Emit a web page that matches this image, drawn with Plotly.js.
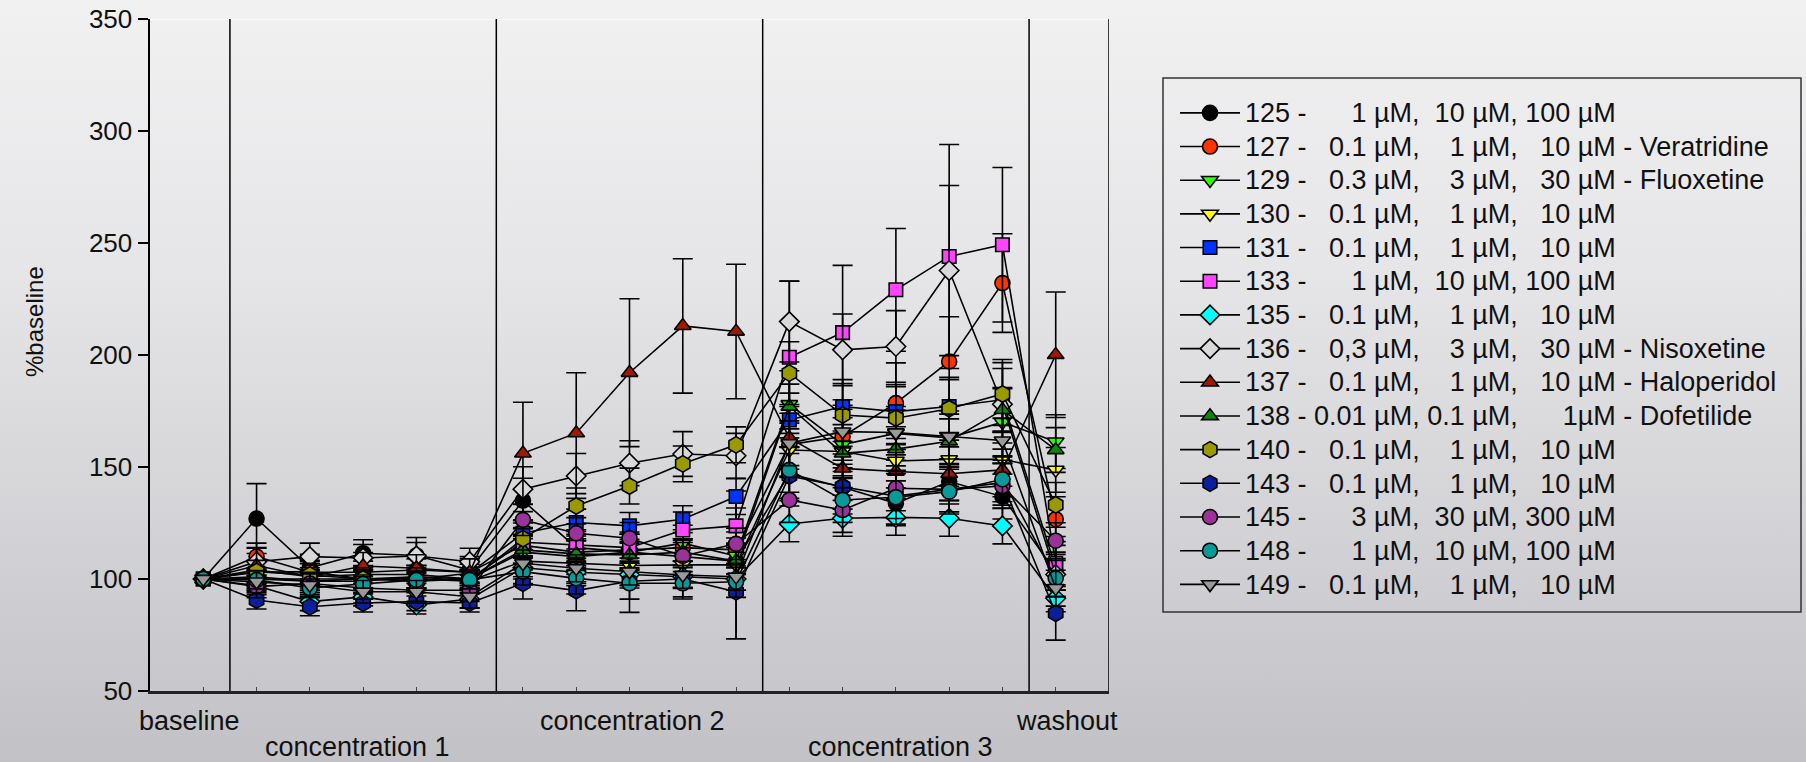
<!DOCTYPE html>
<html><head><meta charset="utf-8">
<script src="https://cdn.plot.ly/plotly-3.0.1.min.js"></script>
<style>
html,body{margin:0;padding:0;}
body{width:1806px;height:762px;overflow:hidden;background:linear-gradient(to bottom,#f1f1f2 0%,#e6e6e8 35%,#c2c1c6 100%);}
#chart{width:1806px;height:762px;}
</style></head><body><div id="chart"></div><script>
// time points: 0 = baseline, 1-5 = concentration 1, 6-10 = concentration 2, 11-15 = concentration 3, 16 = washout
const timepoints = [0,1,2,3,4,5,6,7,8,9,10,11,12,13,14,15,16];
const phaseLabels = ['baseline','concentration 1','concentration 2','concentration 3','washout'];
const phaseBounds = [0.5, 5.5, 10.5, 15.5];

// mean %baseline values
const s125 = [100,127,105,111.5,110.5,104,135,114,112,110,108,147,141,133.8,143.5,136.8,103];
const s127 = [100,110,103,103,104,103,115,112,113,114,113,160,163.6,178.5,197.1,232.1,126.7];
const s129 = [100,104,101,102,102,100,112,110,112,116,110.3,178,160,165,163,170,161.3];
const s130 = [100,103,103.3,100,101,99,108,107,106,106.3,106.3,157.6,156.9,152.7,153.4,153.4,148.7];
const s131 = [100,101,99,100,100,102.6,120.4,125.2,123.7,126.7,136.8,171,177,174.7,177,180,105];
const s133 = [100,100,99,99,101,100,116.4,115.2,114,121.9,123.7,199,210,229.1,244,249.2,107];
const s135 = [100,97,89.9,92,88.4,91,105,103,102,101,100,124.6,127.1,127.5,127.1,123.7,91.4];
const s136 = [100,107.7,110,109.4,110.3,107.7,140.1,146,151.7,155.8,155,214.9,202.3,203.8,237.7,178,102];
const s137 = [100,106,101,105.8,104.8,103,156.1,165.1,192.1,213,210.5,163,149.4,148,147,148.7,200.1];
const s138 = [100,100,100,100,99,100,113,111.2,110.7,112,108,177,156.1,158,161.5,175.5,157.6];
const s140 = [100,103.3,101.8,100,100,99,118,132.6,141.5,151.4,159.9,191.9,173.2,171.8,176,182.6,133.1];
const s143 = [100,90.6,87.6,89.3,89.9,89.3,98.1,94.8,99,100,94.3,146,141.2,137,140,143,84.7];
const s145 = [100,96.6,98,96,95,95,126.4,120.4,118.2,110.3,115.7,135.3,130.8,140.5,140,141.5,117.1];
const s148 = [100,99.6,96,97.8,99.6,99.6,103.3,100.3,98.1,98.1,98.8,148.7,135.3,136.5,139,144.5,100.3];
const s149 = [100,98.8,97.3,94.3,94.3,92.1,107,104.8,103.3,101.8,101,160.6,165.8,165.4,163.6,161.8,95.9];

// error (SEM) values
const e125 = [0,15.6,6,6,8,6,10,8,8,8,8,12,12,10,10,10,8];
const e127 = [0,6,5,5,5,5,8,8,8,8,8,14,14,18,20,22,10];
const e129 = [0,4,4,4,4,4,8,8,8,8,8,15,12,12,12,15,12];
const e130 = [0,5,5,5,5,5,10,10,10,10,33,12,12,12,12,12,10];
const e131 = [0,4,4,4,4,4,6,6,6,6,8,12,12,12,12,14,10];
const e133 = [0,5,5,5,5,5,6,6,6,8,8,34,30,27.4,50,34.5,12];
const e135 = [0,4,4,4,4,4,5,5,5,5,5,8,8,8,8,8,6];
const e136 = [0,6,6,6,6,6,10,10,10,10,10,18,16,16,38,20,10];
const e137 = [0,8,6,6,6,6,22.8,27,33,30,30,14,12,12,12,12,28];
const e138 = [0,4,4,4,4,4,6,6,6,6,6,10,10,10,10,10,10];
const e140 = [0,5,5,5,5,5,8,8,8,8,8,14,14,14,14,14,10];
const e143 = [0,4,4,4,4,4,7,9,8,8,21,10,10,10,10,10,12];
const e145 = [0,5,5,5,5,5,7,7,7,7,7,10,10,10,10,10,8];
const e148 = [0,4,4,4,4,4,6,7,13,7,7,10,10,12,10,10,8];
const e149 = [0,5,5,5,5,5,6,6,6,6,6,10,10,10,10,10,8];

const legendLabels = [
 '125 -      1 µM,  10 µM, 100 µM',
 '127 -   0.1 µM,    1 µM,   10 µM - Veratridine',
 '129 -   0.3 µM,    3 µM,   30 µM - Fluoxetine',
 '130 -   0.1 µM,    1 µM,   10 µM',
 '131 -   0.1 µM,    1 µM,   10 µM',
 '133 -      1 µM,  10 µM, 100 µM',
 '135 -   0.1 µM,    1 µM,   10 µM',
 '136 -   0,3 µM,    3 µM,   30 µM - Nisoxetine',
 '137 -   0.1 µM,    1 µM,   10 µM - Haloperidol',
 '138 - 0.01 µM, 0.1 µM,      1µM - Dofetilide',
 '140 -   0.1 µM,    1 µM,   10 µM',
 '143 -   0.1 µM,    1 µM,   10 µM',
 '145 -      3 µM,  30 µM, 300 µM',
 '148 -      1 µM,  10 µM, 100 µM',
 '149 -   0.1 µM,    1 µM,   10 µM'
];
const yTicks = [50,100,150,200,250,300,350];

const values = [s125,s127,s129,s130,s131,s133,s135,s136,s137,s138,s140,s143,s145,s148,s149];
const errors = [e125,e127,e129,e130,e131,e133,e135,e136,e137,e138,e140,e143,e145,e148,e149];

// styles
const symbols = ['circle','circle','triangle-down','triangle-down','square','square','diamond','diamond','triangle-up','triangle-up','hexagon','hexagon','circle','circle','triangle-down'];
const colors = ['#000000','#ff3300','#33ff00','#ffff00','#0033ff','#ff44ff','#00ffff','#d9d9d9','#a01800','#0a8a0a','#999900','#0a1f99','#993399','#0a9999','#999999'];
const symSize = {'circle':15,'square':13.5,'diamond':15,'triangle-up':14.5,'triangle-down':14.5,'hexagon':16.5};

const FONT = 'Liberation Sans, Arial, Helvetica, sans-serif';
const traces = values.map((v,i)=>({
  type:'scatter', mode:'lines+markers', x: timepoints, y: v,
  name: '<span style="font-size:27px">' + legendLabels[i].replace(/ /g,'\u00a0') + '</span>',
  line:{color:'#000', width:1.6},
  marker:{symbol:symbols[i], color:colors[i], size:symSize[symbols[i]], line:{color:'#000', width:1.6}},
  error_y:{type:'data', array: errors[i], visible:true, color:'#000', thickness:1.6, width:10},
  cliponaxis:false
}));

const W=1806, H=762, L=150, R=1109, T=19, B=691;
const px = x => (x-L)/(R-L);
const py = y => (B-y)/(B-T);

const shapes = phaseBounds.concat([17]).map(b=>({type:'line', xref:'x', yref:'y', x0:b, x1:b, y0:50, y1:350, line:{color:'#000', width:1.5}}));
shapes.push({type:'line', xref:'x', yref:'y', x0:-1, x1:17, y0:350, y1:350, line:{color:'#ffffff', width:1.5}, layer:'below'});
shapes.push({type:'rect', xref:'paper', yref:'paper', x0:px(1163), x1:px(1801), y0:py(612), y1:py(78), line:{color:'#333', width:1.5}, fillcolor:'rgba(0,0,0,0)'});

const labelPos = [
 {x:0, xs:-14, row:0},{x:3, xs:-6, row:1},{x:8, xs:3, row:0},{x:13, xs:5, row:1},{x:16, xs:11, row:0}
];
const annotations = phaseLabels.map((t,i)=>({
  text:t, xref:'x', yref:'paper', x:labelPos[i].x, xshift:labelPos[i].xs,
  y: labelPos[i].row===0 ? py(721) : py(747), yanchor:'middle', xanchor:'center', showarrow:false,
  font:{family:FONT, size:27, color:'#111'}
}));
annotations.push({text:'%baseline', xref:'paper', yref:'paper', x:px(35), y:py(322), textangle:-90, showarrow:false,
  xanchor:'center', yanchor:'middle', font:{family:FONT, size:24, color:'#111'}});

const layout = {
  width:W, height:H,
  margin:{l:L, r:W-R, t:T, b:H-B, autoexpand:false},
  paper_bgcolor:'rgba(0,0,0,0)', plot_bgcolor:'rgba(0,0,0,0)',
  showlegend:true,
  legend:{x:px(1175), y:py(91), xanchor:'left', yanchor:'top', bgcolor:'rgba(0,0,0,0)', borderwidth:0,
    font:{family:FONT, size:23.6, color:'#111'}, itemwidth:60, traceorder:'normal'},
  xaxis:{range:[-1,17], showgrid:false, zeroline:false, showline:true, linecolor:'#222', linewidth:2.5,
    tickvals:timepoints, ticktext:timepoints.map(()=>''), ticks:'inside', ticklen:4, tickcolor:'#444', tickwidth:1},
  yaxis:{range:[50,350], tickvals:yTicks, showgrid:false, zeroline:false, showline:true, linecolor:'#000', linewidth:2.5,
    ticks:'outside', ticklen:10, tickwidth:2, tickcolor:'#000', ticklabelstandoff:0,
    tickfont:{family:FONT, size:26, color:'#111'}},
  shapes:shapes, annotations:annotations
};
Plotly.newPlot('chart', traces, layout, {displayModeBar:false, staticPlot:true});
</script></body></html>
